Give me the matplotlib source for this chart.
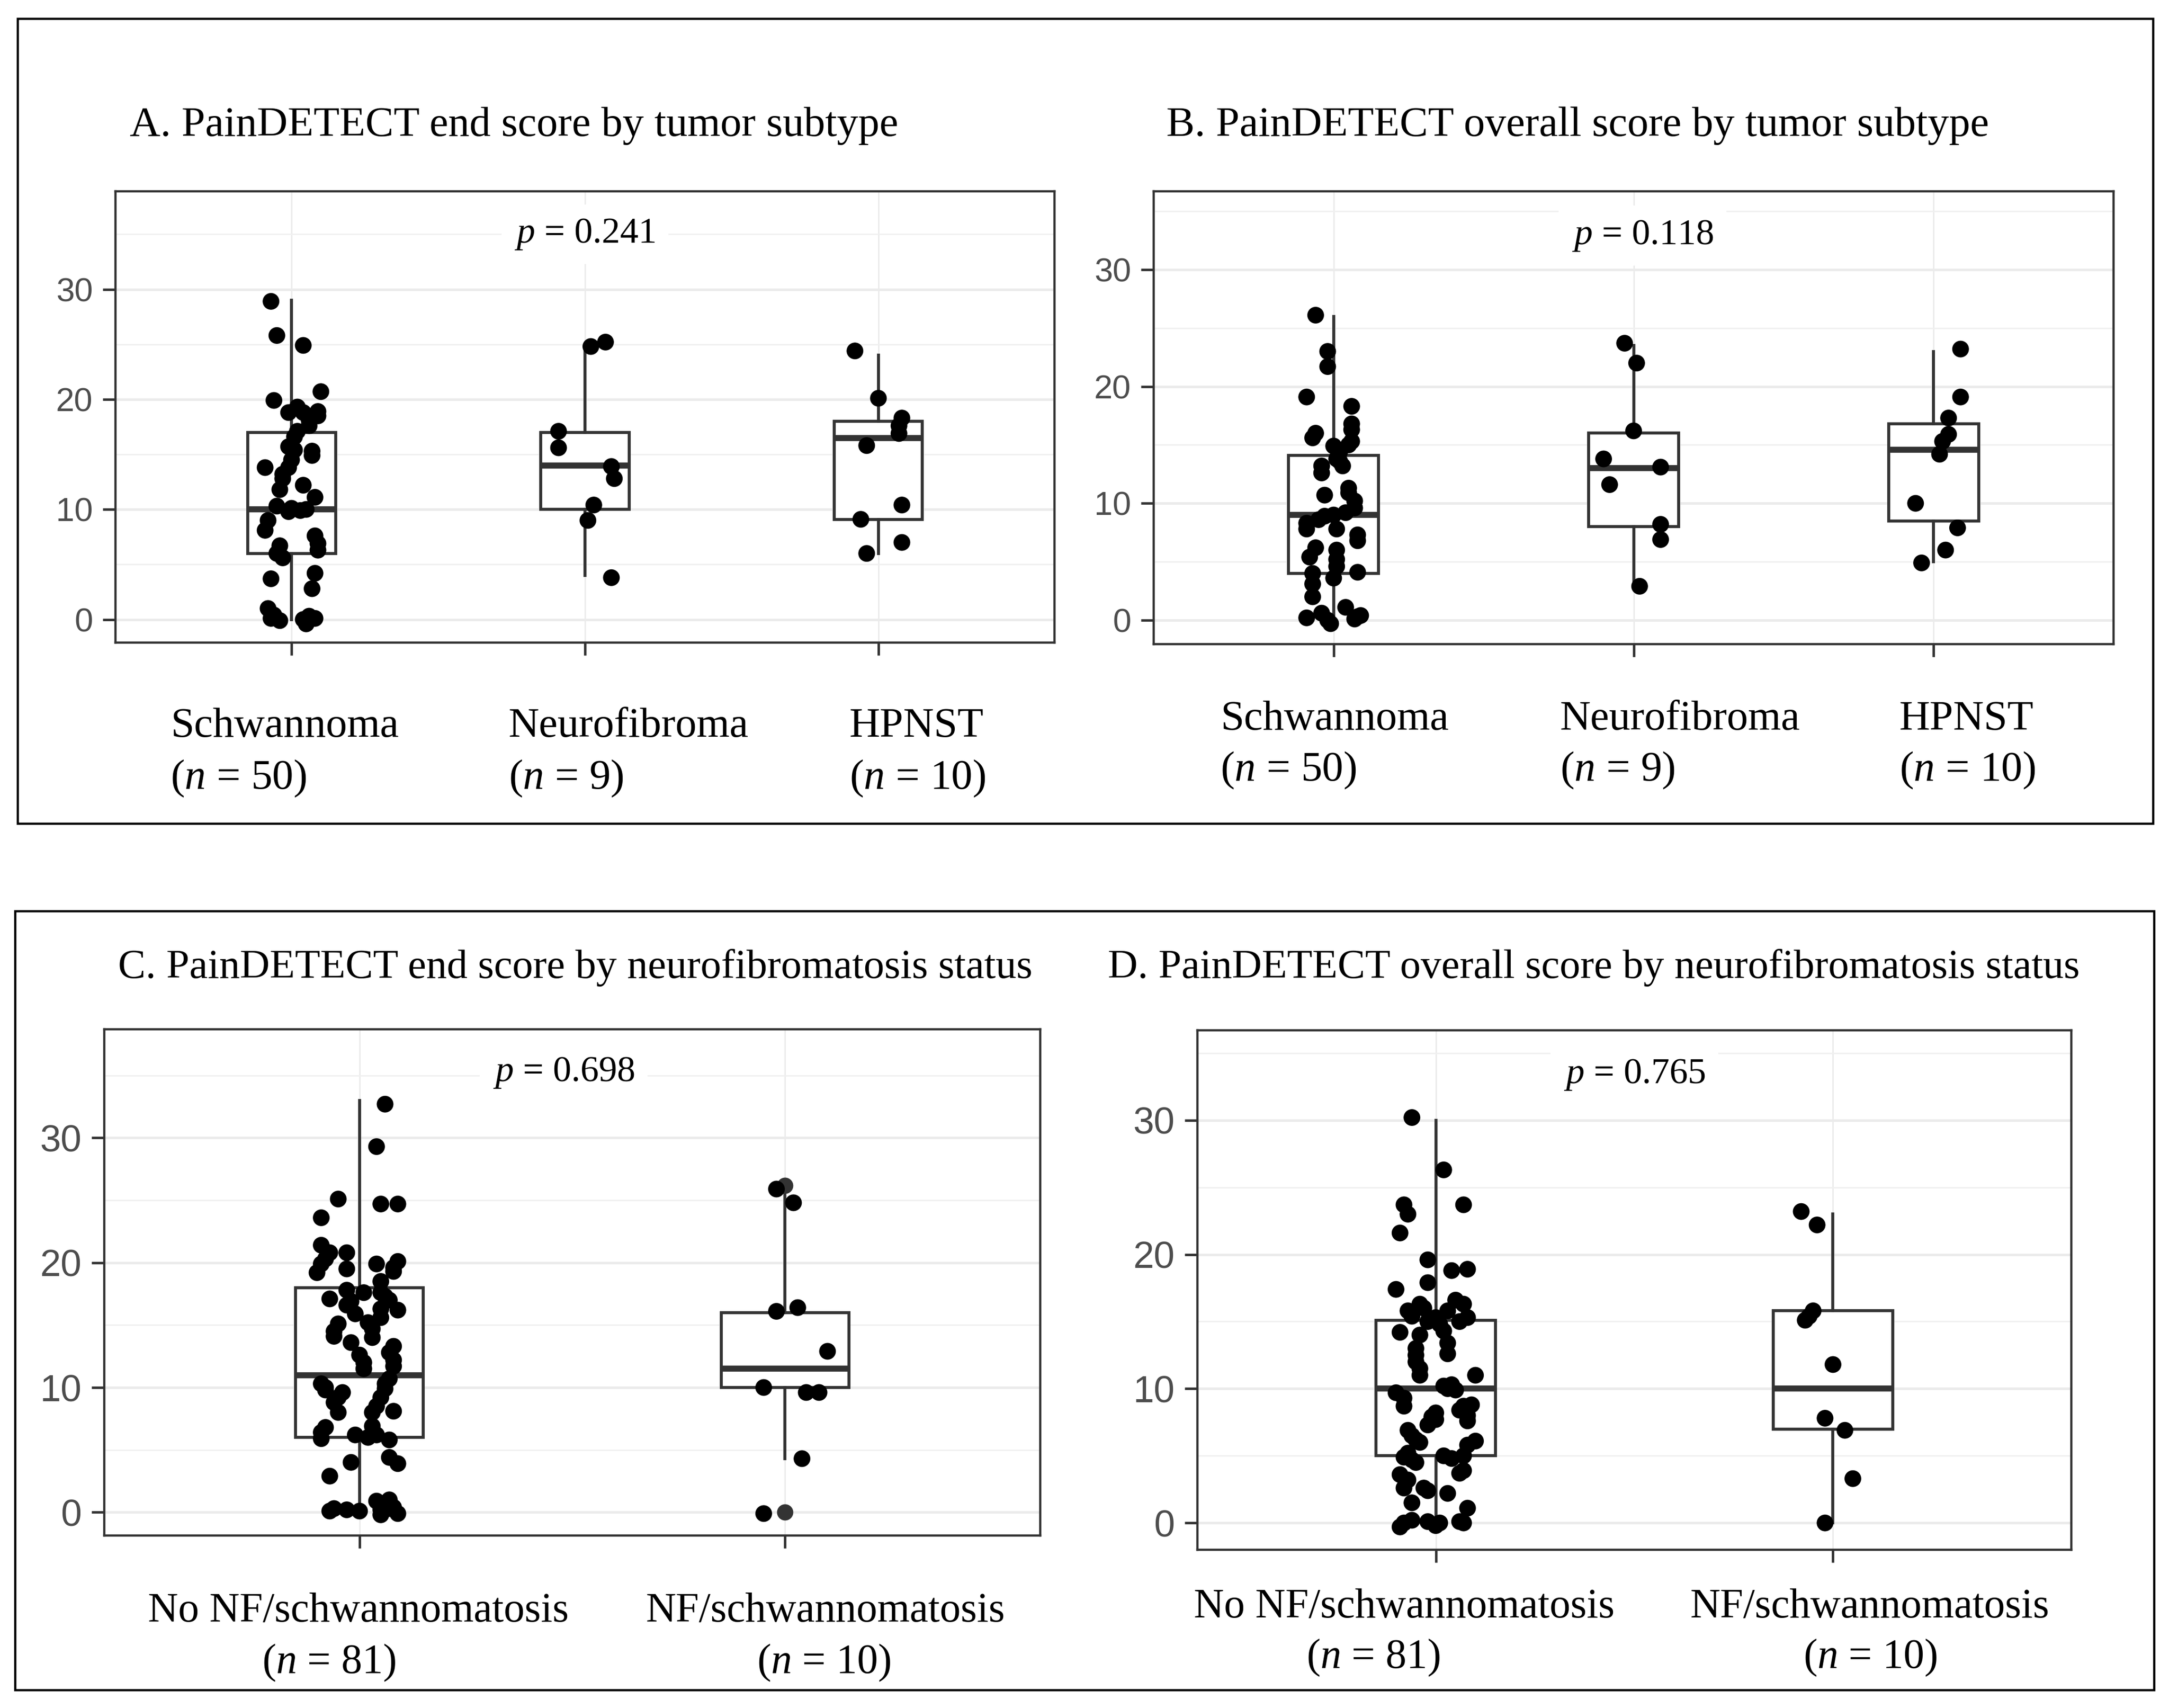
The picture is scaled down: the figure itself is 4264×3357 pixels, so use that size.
import matplotlib
matplotlib.use("Agg")
import matplotlib.pyplot as plt
from matplotlib.patches import Rectangle

plt.rcParams['mathtext.fontset'] = 'custom'
plt.rcParams['mathtext.rm'] = 'Liberation Serif'
plt.rcParams['mathtext.it'] = 'Liberation Serif:italic'

# ---- data ----
tumor_types = ["Schwannoma", "Neurofibroma", "HPNST"]
tumor_n = [50, 9, 10]
nf_groups = ["No NF/schwannomatosis", "NF/schwannomatosis"]
nf_n = [81, 10]
titles = ["A. PainDETECT end score by tumor subtype",
          "B. PainDETECT overall score by tumor subtype",
          "C. PainDETECT end score by neurofibromatosis status",
          "D. PainDETECT overall score by neurofibromatosis status"]
p_values = ["0.241", "0.118", "0.698", "0.765"]

# A: end score by tumor subtype
a_schw = [28.9, 25.8, 24.9, 20.7, 19.9, 18.8, 18.8, 18.9, 18.1, 18.5,
          17.1, 16.6, 15.7, 15.4, 15.3, 14.9, 13.8, 13.8, 13.2, 12.2,
          11.8, 11.1, 10.1, 10.0, 9.8, 9.0, 8.1, 7.6, 6.9, 6.7,
          6.3, 6.0, 5.6, 4.2, 3.7, 2.8, 1.0, 0.1, -0.1, 0.0,
          0.3, -0.4, 19.3, 12.8, 9.9, 0.4, 0.1, 14.5, 10.3, 17.6]
a_schw_dx = [-0.07, -0.05, 0.04, 0.10, -0.06, -0.01, 0.04, 0.09, 0.06, 0.09,
             0.02, 0.01, -0.01, 0.01, 0.07, 0.07, -0.09, -0.01, -0.03, 0.04,
             -0.04, 0.08, 0.0, 0.05, -0.01, -0.08, -0.09, 0.08, 0.09, -0.04,
             0.09, -0.05, -0.03, 0.08, -0.07, 0.07, -0.08, -0.07, -0.04, 0.04,
             0.06, 0.05, 0.02, -0.03, 0.03, -0.06, 0.08, 0.0, -0.05, 0.06]
a_neuro = [24.8, 25.2, 17.1, 15.6, 13.9, 12.8, 10.4, 9.0, 3.8]
a_neuro_dx = [0.02, 0.07, -0.09, -0.09, 0.09, 0.10, 0.03, 0.01, 0.09]
a_hpnst = [24.4, 20.1, 18.3, 17.6, 16.9, 15.8, 10.4, 9.1, 7.0, 6.0]
a_hpnst_dx = [-0.08, 0.0, 0.08, 0.07, 0.07, -0.04, 0.08, -0.06, 0.08, -0.04]
# box stats: q1, median, q3, lower whisker, upper whisker
a_box = [(6.0, 10.0, 17.0, 0.0, 29.0),
         (10.0, 14.0, 17.0, 4.0, 24.5),
         (9.1, 16.5, 18.0, 6.0, 24.0)]

# B: overall score by tumor subtype
b_schw = [26.1, 23.0, 21.7, 19.1, 18.3, 16.0, 15.6, 16.3, 15.3, 14.9,
          14.4, 13.2, 13.2, 13.8, 11.3, 10.7, 10.2, 9.6, 9.0, 8.9,
          8.3, 7.8, 7.8, 7.3, 6.8, 6.2, 5.4, 5.2, 4.6, 4.1,
          3.6, 3.1, 2.0, 1.1, 0.2, 0.6, -0.3, 0.3, 0.4, 16.8,
          13.6, 12.6, 10.9, 9.2, 8.6, 6.0, 4.0, 15.0, 0.0, 0.1]
b_schw_dx = [-0.06, -0.02, -0.02, -0.09, 0.06, -0.06, -0.07, 0.06, 0.06, 0.0,
             0.02, -0.04, 0.03, 0.01, 0.05, -0.03, 0.07, 0.07, 0.0, -0.03,
             -0.09, -0.09, 0.01, 0.08, 0.08, -0.06, -0.08, 0.01, 0.01, 0.08,
             0.0, -0.07, -0.07, 0.04, -0.09, -0.04, -0.01, 0.08, 0.09, 0.06,
             0.02, -0.04, 0.05, 0.04, -0.05, 0.01, -0.07, 0.05, -0.02, 0.07]
b_neuro = [23.7, 22.0, 16.2, 13.8, 13.1, 11.6, 8.2, 6.9, 2.9]
b_neuro_dx = [-0.03, 0.01, 0.0, -0.10, 0.09, -0.08, 0.09, 0.09, 0.02]
b_hpnst = [23.2, 19.1, 17.3, 15.9, 15.3, 14.2, 10.0, 7.9, 6.0, 4.9]
b_hpnst_dx = [0.09, 0.09, 0.05, 0.05, 0.03, 0.02, -0.06, 0.08, 0.04, -0.04]
b_box = [(4.0, 9.0, 14.1, 0.0, 26.0),
         (8.0, 13.0, 16.0, 3.0, 23.5),
         (8.5, 14.6, 16.8, 5.0, 23.0)]

# C: end score by NF status
c_nonf = [32.7, 29.3, 25.1, 24.7, 24.7, 23.6, 21.4, 20.8, 20.8, 19.9,
          19.2, 19.9, 20.1, 19.3, 19.5, 18.5, 17.8, 17.6, 17.1, 17.6,
          17.0, 16.6, 16.2, 15.9, 15.6, 15.1, 14.1, 14.7, 14.0, 13.6,
          13.3, 12.6, 12.2, 11.7, 11.5, 10.3, 9.8, 9.6, 10.7, 9.9,
          9.2, 8.8, 8.5, 8.0, 8.1, 6.8, 5.9, 6.9, 6.2, 6.2,
          5.8, 4.4, 4.0, 3.9, 2.9, 0.3, 0.2, 0.1, 0.9, 1.0,
          0.2, -0.1, 0.3, 20.3, 19.6, 17.3, 16.9, 16.3, 15.2, 14.5,
          12.8, 12.0, 10.0, 10.3, 9.2, 8.0, 6.4, 6.0, 0.1, 0.4, -0.2]
c_nonf_dx = [0.06, 0.04, -0.05, 0.05, 0.09, -0.09, -0.09, -0.07, -0.03, -0.09,
             -0.10, 0.04, 0.09, 0.08, -0.03, 0.05, -0.03, 0.01, -0.07, 0.05,
             0.07, -0.03, 0.09, -0.01, 0.05, -0.05, -0.06, 0.03, 0.03, -0.02,
             0.08, 0.0, 0.08, 0.08, 0.01, -0.09, -0.08, -0.04, 0.07, 0.06,
             0.05, -0.06, 0.04, -0.05, 0.08, -0.08, -0.09, 0.03, 0.04, -0.01,
             0.07, 0.07, -0.02, 0.09, -0.07, -0.06, -0.03, 0.0, 0.04, 0.07,
             0.05, 0.09, 0.07, -0.08, 0.08, 0.06, -0.02, 0.05, 0.02, -0.06,
             0.07, 0.01, -0.08, 0.06, -0.05, 0.03, -0.09, 0.02, -0.07, 0.08, 0.05]
c_nf = [25.9, 24.8, 16.1, 16.4, 12.9, 10.0, 9.6, 9.6, 4.3, -0.1]
c_nf_dx = [-0.02, 0.02, -0.02, 0.03, 0.10, -0.05, 0.05, 0.08, 0.04, -0.05]
c_box = [(6.0, 11.0, 18.0, 0.0, 33.0),
         (10.0, 11.5, 16.0, 4.3, 25.5)]
c_outliers = [[], [26.2, 0.0]]

# D: overall score by NF status
d_nonf = [30.2, 26.3, 23.7, 23.0, 23.7, 21.6, 19.6, 18.8, 18.9, 17.9,
          17.4, 16.3, 15.8, 16.3, 15.8, 15.3, 15.3, 15.0, 14.2, 14.3,
          13.4, 13.0, 12.0, 11.0, 11.0, 10.2, 10.3, 9.7, 8.7, 8.7,
          8.8, 8.2, 7.7, 7.3, 8.0, 6.9, 6.2, 6.1, 4.9, 4.7,
          5.0, 5.0, 3.9, 3.6, 2.6, 2.6, 2.2, 1.5, 1.1, -0.3,
          0.0, 0.1, -0.2, 0.0, 16.0, 16.6, 15.4, 14.8, 15.0, 14.0,
          12.6, 12.5, 11.5, 10.0, 9.9, 9.3, 8.4, 7.9, 7.6, 6.5,
          6.0, 5.8, 5.2, 4.8, 4.5, 3.7, 3.2, 0.2, 0.1, 0.0, 2.4]
d_nonf_dx = [-0.06, 0.02, -0.08, -0.07, 0.07, -0.09, -0.02, 0.04, 0.08, -0.02,
             -0.10, -0.04, -0.07, 0.07, 0.03, 0.08, 0.0, -0.02, -0.09, 0.02,
             0.03, -0.05, -0.05, -0.04, 0.10, 0.02, 0.04, -0.10, -0.08, 0.07,
             0.09, 0.0, 0.0, -0.02, 0.08, -0.07, -0.05, 0.10, -0.08, -0.06,
             0.02, 0.07, 0.07, -0.09, -0.08, -0.03, 0.03, -0.06, 0.08, -0.09,
             -0.08, -0.02, 0.0, 0.07, -0.03, 0.05, -0.06, 0.01, 0.06, -0.04,
             0.03, -0.05, -0.04, 0.03, 0.05, -0.08, 0.06, -0.01, 0.08, -0.06,
             -0.04, 0.08, -0.07, 0.04, -0.05, 0.06, -0.07, -0.06, 0.06, 0.01, -0.02]
d_nf = [23.2, 22.2, 15.8, 15.4, 15.1, 11.8, 7.8, 6.9, 3.3, 0.0]
d_nf_dx = [-0.08, -0.04, -0.05, -0.06, -0.07, 0.0, -0.02, 0.03, 0.05, -0.02]
d_box = [(5.0, 10.0, 15.1, 0.0, 30.0),
         (7.0, 10.0, 15.8, 0.0, 23.0)]

# ---- layout (pixel positions in the 4264 x 3357 image) ----
W, H = 4264, 3357
fig = plt.figure(figsize=(W / 100, H / 100), dpi=100)
fig.patch.set_facecolor("white")

SERIF = "Liberation Serif"
SANS = "Liberation Sans"
DARK = "#333333"


def fx(x):
    return x / W


def fy(y):
    return 1 - y / H


def add_ax(l, t, r, b):
    return fig.add_axes([fx(l), fy(b), (r - l) / W, (b - t) / H])


def draw_panel(ax, groups, dxs, box, ylim, xlim, ptxt, px, py, tick_fs,
               outliers=None):
    ncat = len(groups)
    pos = list(range(1, ncat + 1))

    stats = []
    for i, (q1, med, q3, lo, hi) in enumerate(box):
        st = dict(q1=q1, med=med, q3=q3, whislo=lo, whishi=hi,
                  fliers=(outliers[i] if outliers else []))
        stats.append(st)
    ax.bxp(stats, positions=pos, widths=0.3, showcaps=False,
           patch_artist=True, manage_ticks=False,
           boxprops=dict(facecolor="white", edgecolor=DARK, linewidth=4.2),
           whiskerprops=dict(color=DARK, linewidth=4.2),
           medianprops=dict(color=DARK, linewidth=8.5),
           flierprops=dict(marker="o", markerfacecolor=DARK,
                           markeredgecolor=DARK, markersize=22),
           zorder=2)
    for p, ys, dx in zip(pos, groups, dxs):
        ax.scatter([p + d for d in dx], ys, s=560, color="black",
                   edgecolors="none", zorder=3)

    ax.set_xlim(*xlim)
    ax.set_ylim(*ylim)
    ax.set_yticks([0, 10, 20, 30])
    ax.set_yticks([5, 15, 25, 35], minor=True)
    ax.set_xticks(pos)
    ax.set_xticklabels([""] * ncat)
    ax.set_axisbelow(True)
    ax.yaxis.grid(True, which="major", color="#EBEBEB", lw=3.6)
    ax.yaxis.grid(True, which="minor", color="#F0F0F0", lw=2.0)
    ax.xaxis.grid(True, which="major", color="#EBEBEB", lw=2.0)
    for s in ax.spines.values():
        s.set_color(DARK)
        s.set_linewidth(3.2)
    ax.tick_params(axis="both", which="major", length=18, width=3.5,
                   color=DARK, labelsize=tick_fs, labelcolor="#4D4D4D", pad=14)
    ax.tick_params(axis="both", which="minor", length=0)
    for lab in ax.get_yticklabels():
        lab.set_fontfamily(SANS)

    ax.text(px, py, r"$\mathit{p}$ = " + ptxt, ha="center", va="center",
            fontsize=52, fontfamily=SERIF, zorder=4,
            bbox=dict(boxstyle="square,pad=0.35", facecolor="white",
                      edgecolor="none"))


# outer frames
fig.patches.append(Rectangle((fx(35), fy(1619)), (4233 - 35) / W,
                             (1619 - 37) / H, transform=fig.transFigure,
                             fill=False, edgecolor="black", lw=3.2))
fig.patches.append(Rectangle((fx(30), fy(3322)), (4235 - 30) / W,
                             (3322 - 1791) / H, transform=fig.transFigure,
                             fill=False, edgecolor="black", lw=3.2))

axA = add_ax(227, 376, 2073, 1263)
draw_panel(axA, [a_schw, a_neuro, a_hpnst], [a_schw_dx, a_neuro_dx, a_hpnst_dx],
           a_box, (-2.1, 38.9), (0.4, 3.6), p_values[0], 2.0, 35.0, 47)

axB = add_ax(2268, 376, 4155, 1266)
draw_panel(axB, [b_schw, b_neuro, b_hpnst], [b_schw_dx, b_neuro_dx, b_hpnst_dx],
           b_box, (-2.05, 36.7), (0.4, 3.6), p_values[1], 2.03, 32.9, 47)

axC = add_ax(205, 2023, 2045, 3018)
draw_panel(axC, [c_nonf, c_nf], [c_nonf_dx, c_nf_dx], c_box, (-1.86, 38.7),
           (0.4, 2.6), p_values[2], 1.48, 35.2, 53, outliers=c_outliers)

axD = add_ax(2354, 2025, 4072, 3046)
draw_panel(axD, [d_nonf, d_nf], [d_nonf_dx, d_nf_dx], d_box, (-2.0, 36.7),
           (0.4, 2.6), p_values[3], 1.5, 33.4, 53)

# panel titles
title_pos = [(255, 267), (2293, 267), (232, 1922), (2178, 1922)]
title_fs = [60, 60, 58.5, 58.5]
for t, (x, y), fs in zip(titles, title_pos, title_fs):
    fig.text(fx(x), fy(y), t, fontsize=fs, fontfamily=SERIF,
             ha="left", va="baseline")

# category labels, top row (left aligned)
top_lab_x = [[335, 1000, 1670], [2399, 3067, 3734]]
top_lab_y = [(1448, 1550), (1434, 1534)]
for xs, (y1, y2) in zip(top_lab_x, top_lab_y):
    for name, n, x in zip(tumor_types, tumor_n, xs):
        fig.text(fx(x), fy(y1), name, fontsize=60, fontfamily=SERIF,
                 ha="left", va="baseline")
        fig.text(fx(x), fy(y2), r"($\mathit{n}$ = %d)" % n, fontsize=60,
                 fontfamily=SERIF, ha="left", va="baseline")

# category labels, bottom row (centred)
bot_lab_x = [[(705, 647), (1623, 1620)], [(2761, 2700), (3676, 3677)]]
bot_lab_y = [(3187, 3288), (3178, 3278)]
for xs, (y1, y2) in zip(bot_lab_x, bot_lab_y):
    for name, n, (x1, x2) in zip(nf_groups, nf_n, xs):
        fig.text(fx(x1), fy(y1), name, fontsize=59, fontfamily=SERIF,
                 ha="center", va="baseline")
        fig.text(fx(x2), fy(y2), r"($\mathit{n}$ = %d)" % n, fontsize=59,
                 fontfamily=SERIF, ha="center", va="baseline")

fig.savefig("out.png", dpi=100, facecolor="white")
